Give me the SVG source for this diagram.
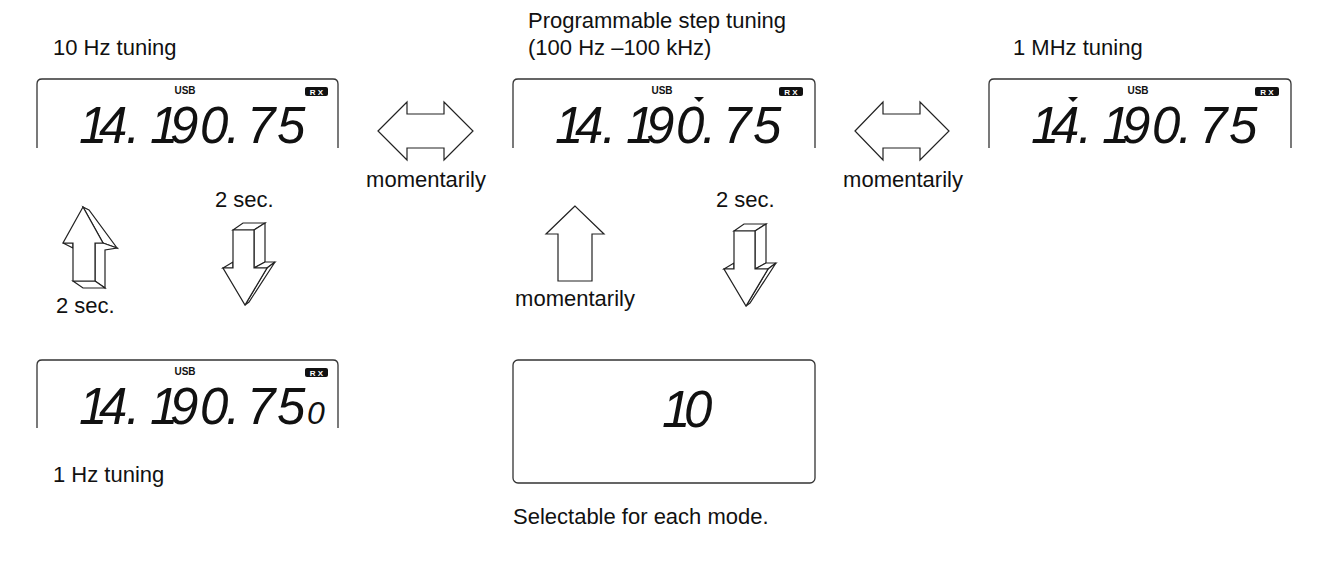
<svg xmlns="http://www.w3.org/2000/svg" width="1330" height="567" viewBox="0 0 1330 567">
<style>
.lbl{font-family:"Liberation Sans",Arial,sans-serif;font-size:22px;fill:#111}
.frame{fill:none;stroke:#333;stroke-width:1.3}
.usb{font-family:"Liberation Sans",Arial,sans-serif;font-size:10px;font-weight:bold;fill:#111;text-anchor:middle}
.rxb{fill:#111}
.rxt{font-family:"Liberation Sans",Arial,sans-serif;font-size:8px;font-weight:bold;fill:#fff;text-anchor:middle}
.lcd{font-family:"Liberation Sans",Arial,sans-serif;font-size:51px;font-style:italic;fill:#111}
.lcd-s{font-family:"Liberation Sans",Arial,sans-serif;font-size:32px;font-style:italic;fill:#111}
.arr{fill:#fff;stroke:#222;stroke-width:1.2;stroke-linejoin:miter}
.mark{fill:#111}
</style>
<rect width="1330" height="567" fill="#fff"/>

<g id="panel-10hz">
<text class="lbl" x="53" y="55">10 Hz tuning</text>
<path class="frame" d="M37,148 V84 Q37,79 42,79 H333 Q338,79 338,84 V148"/>
<text class="usb" x="185" y="94">USB</text>
<rect class="rxb" x="305" y="87" width="23" height="9" rx="2"/>
<text class="rxt" x="316.5" y="94.5">R X</text>
<text class="lcd" x="79 99 126" y="143">14.</text>
<text class="lcd" x="150 170 200 226 247 277" y="143">190.75</text>
</g>

<g id="panel-step">
<text class="lbl" x="528" y="28">Programmable step tuning</text>
<text class="lbl" x="528" y="55">(100 Hz –100 kHz)</text>
<path class="frame" d="M513,148 V84 Q513,79 518,79 H810 Q815,79 815,84 V148"/>
<text class="usb" x="662" y="94">USB</text>
<rect class="rxb" x="779" y="87" width="24" height="9" rx="2"/>
<text class="rxt" x="791" y="94.5">R X</text>
<polygon class="mark" points="694,97 704,97 699,102"/>
<text class="lcd" x="555 575 602" y="143">14.</text>
<text class="lcd" x="626 646 676 702 723 753" y="143">190.75</text>
</g>

<g id="panel-1mhz">
<text class="lbl" x="1013" y="55">1 MHz tuning</text>
<path class="frame" d="M989,148 V84 Q989,79 994,79 H1286 Q1291,79 1291,84 V148"/>
<text class="usb" x="1138" y="94">USB</text>
<rect class="rxb" x="1255" y="87" width="24" height="9" rx="2"/>
<text class="rxt" x="1267" y="94.5">R X</text>
<polygon class="mark" points="1068,97 1078,97 1073,102"/>
<text class="lcd" x="1031 1051 1078" y="143">14.</text>
<text class="lcd" x="1102 1122 1152 1178 1199 1229" y="143">190.75</text>
</g>

<g id="panel-1hz">
<path class="frame" d="M37,428 V365 Q37,360 42,360 H333 Q338,360 338,365 V428"/>
<text class="usb" x="185" y="375">USB</text>
<rect class="rxb" x="305" y="368" width="23" height="9" rx="2"/>
<text class="rxt" x="316.5" y="375.5">R X</text>
<text class="lcd" x="79 99 126" y="424">14.</text>
<text class="lcd" x="150 170 200 226 247 277" y="424">190.75</text>
<text class="lcd-s" x="307" y="424">0</text>
<text class="lbl" x="53" y="482">1 Hz tuning</text>
</g>

<g id="panel-select">
<rect class="frame" x="513" y="360" width="302" height="123" rx="5"/>
<text class="lcd" x="662 684" y="427">10</text>
<text class="lbl" x="513" y="524">Selectable for each mode.</text>
</g>

<g id="connectors">
<polygon class="arr" points="378,131 407,102 407,114 444,114 444,102 473,131 444,160 444,148 407,148 407,160"/>
<text class="lbl" x="426" y="187" text-anchor="middle">momentarily</text>
<polygon class="arr" points="855,131 883,102 883,114 920,114 920,102 949,131 920,160 920,148 883,148 883,160"/>
<text class="lbl" x="903" y="187" text-anchor="middle">momentarily</text>

<g id="up3d">
<polygon class="arr" points="83,207 89,210 117,248 103,243"/>
<polygon class="arr" points="95,243 103,243 117,248 105,250 105,288 95,281"/>
<polygon class="arr" points="73,281 95,281 105,288 83,288"/>
<polygon class="arr" points="63,243 73,243 73,248"/>
<polygon class="arr" points="83,207 63,243 73,243 73,281 95,281 95,243 103,243"/>
</g>
<text class="lbl" x="56" y="313">2 sec.</text>

<g id="down3d">
<polygon class="arr" points="233,230 243,223 265,223 254,230"/>
<polygon class="arr" points="254,230 265,223 265,262 254,268"/>
<polygon class="arr" points="254,268 265,262 275,262 267,268"/>
<polygon class="arr" points="267,268 275,262 249,302 245,305"/>
<polygon class="arr" points="223,268 233,262 233,268"/>
<polygon class="arr" points="233,230 254,230 254,268 267,268 245,305 223,268 233,268"/>
</g>
<text class="lbl" x="215" y="207">2 sec.</text>

<polygon class="arr" points="575,206 546,234 558,234 558,281 592,281 592,234 604,234"/>
<text class="lbl" x="575" y="306" text-anchor="middle">momentarily</text>

<use href="#down3d" x="501" y="1"/>
<text class="lbl" x="716" y="207">2 sec.</text>
</g>
</svg>
